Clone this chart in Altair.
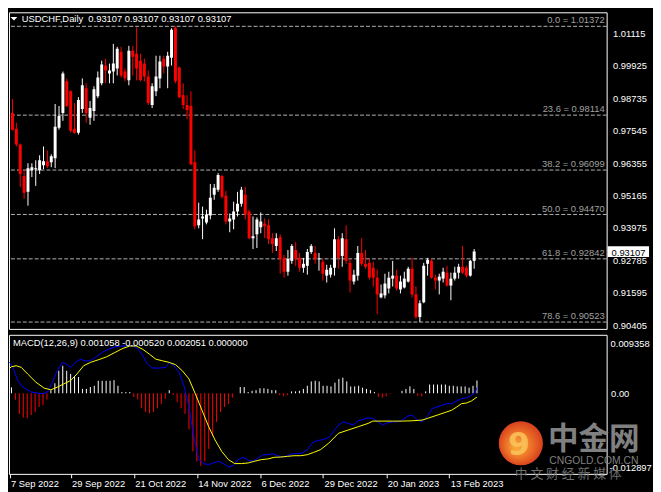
import json
import altair as alt
import pandas as pd

FONT = "Liberation Sans"

# ---------------- data ----------------
open_price = [0.98195, 0.97616, 0.97038, 0.95879, 0.95301, 0.96096, 0.96133, 0.96096, 0.96277, 0.96422,
              0.96386, 0.96530, 0.97653, 0.98195, 0.99353, 0.98991, 0.97616, 0.97472, 0.98340, 0.99100,
              0.98014, 0.98268, 0.98810, 0.99281, 0.99932, 0.99642, 0.99714, 0.99823, 1.00439, 0.99714,
              0.99389, 1.00475, 1.00366, 1.00113, 1.00004, 0.99533, 0.98485, 0.98991, 0.99461, 1.00185,
              0.99895, 1.00221, 1.01320, 0.99859, 0.98847, 0.98485, 0.98448, 0.96386, 0.94070, 0.94324,
              0.94179, 0.94432, 0.95192, 0.95373, 0.95879, 0.95156, 0.94215, 0.94288, 0.94577, 0.94867,
              0.95192, 0.94577, 0.93600, 0.93745, 0.93998, 0.94143, 0.94070, 0.93600, 0.93311, 0.93637,
              0.92877, 0.92370, 0.92768, 0.93166, 0.92877, 0.92515, 0.92587, 0.93094, 0.93058, 0.92822,
              0.92732, 0.92225, 0.92261, 0.92515, 0.93564, 0.92949, 0.93564, 0.92696, 0.92009, 0.92225,
              0.93058, 0.92660, 0.92696, 0.92515, 0.92153, 0.91429, 0.91502, 0.91755, 0.92117, 0.92225,
              0.91719, 0.91791, 0.92009, 0.92479, 0.91538, 0.90706, 0.91249, 0.92660, 0.92768, 0.92153,
              0.92045, 0.92117, 0.92334, 0.91864, 0.92117, 0.92334, 0.92551, 0.92515, 0.92225, 0.92768]
high_price = [0.98702, 0.97833, 0.97074, 0.96096, 0.96350, 0.96350, 0.96458, 0.96639, 0.96965, 0.96820,
              0.96675, 0.98521, 0.98448, 0.99714, 0.99461, 0.99028, 0.98557, 0.98774, 0.99461, 0.99281,
              0.98630, 0.99172, 0.99714, 1.00113, 1.00185, 1.00004, 1.00728, 1.00620, 1.00620, 0.99823,
              1.00656, 1.00656, 1.01330, 1.00366, 1.00185, 0.99750, 0.99281, 1.00294, 1.00294, 1.00294,
              1.00439, 1.01300, 1.01372, 0.99895, 0.99281, 0.98847, 0.98991, 0.96820, 0.94903, 0.94758,
              0.94649, 0.95590, 0.95590, 0.95988, 0.95916, 0.95337, 0.94505, 0.94939, 0.95301, 0.95482,
              0.95482, 0.94649, 0.94396, 0.94360, 0.94541, 0.94324, 0.94288, 0.93781, 0.93781, 0.93745,
              0.92985, 0.93166, 0.93384, 0.93456, 0.93058, 0.92877, 0.93203, 0.93384, 0.93311, 0.93058,
              0.92840, 0.92623, 0.92623, 0.93962, 0.93673, 0.93781, 0.94070, 0.92840, 0.92442, 0.93311,
              0.93600, 0.93166, 0.92840, 0.92732, 0.92442, 0.91900, 0.92297, 0.92370, 0.92768, 0.92442,
              0.92225, 0.92370, 0.92551, 0.92877, 0.91828, 0.91321, 0.92696, 0.92877, 0.92840, 0.92261,
              0.92297, 0.92515, 0.92587, 0.92334, 0.92551, 0.92660, 0.93311, 0.92587, 0.92804, 0.93203]
low_price = [0.97544, 0.96965, 0.95482, 0.95048, 0.94794, 0.95843, 0.95518, 0.95952, 0.96133, 0.96169,
             0.96205, 0.96169, 0.97581, 0.97906, 0.98412, 0.97472, 0.97436, 0.97400, 0.98195, 0.97833,
             0.97761, 0.97906, 0.98738, 0.99208, 0.99281, 0.99281, 0.99281, 0.99570, 0.99497, 0.99353,
             0.99208, 0.99570, 0.99389, 0.99353, 0.99353, 0.98485, 0.98376, 0.98810, 0.99100, 0.99642,
             0.99100, 0.99932, 0.99281, 0.98738, 0.98340, 0.97978, 0.96277, 0.93926, 0.93962, 0.93564,
             0.94107, 0.94288, 0.95012, 0.95301, 0.95048, 0.94107, 0.93818, 0.93926, 0.94396, 0.94758,
             0.94288, 0.93564, 0.93203, 0.93239, 0.93781, 0.93600, 0.93384, 0.93058, 0.93130, 0.92297,
             0.92153, 0.92225, 0.92660, 0.92587, 0.92370, 0.92334, 0.92261, 0.93022, 0.92660, 0.92406,
             0.92045, 0.91973, 0.92153, 0.92225, 0.92479, 0.92551, 0.92660, 0.91610, 0.91900, 0.92045,
             0.92587, 0.92479, 0.92081, 0.91828, 0.90814, 0.91393, 0.91393, 0.91574, 0.91828, 0.91683,
             0.91574, 0.91755, 0.91973, 0.91429, 0.90634, 0.90525, 0.91212, 0.92225, 0.92117, 0.91719,
             0.91538, 0.91973, 0.91828, 0.91321, 0.92045, 0.92117, 0.92297, 0.92153, 0.92189, 0.92479]
close_price = [0.97581, 0.97038, 0.95952, 0.95265, 0.96169, 0.96205, 0.96169, 0.96458, 0.96422, 0.96241,
               0.96603, 0.97689, 0.98086, 0.99642, 0.98448, 0.97544, 0.97472, 0.98666, 0.99208, 0.98195,
               0.98376, 0.99064, 0.99497, 0.99968, 0.99750, 0.99750, 1.00004, 1.00547, 0.99570, 0.99461,
               1.00475, 1.00258, 0.99823, 0.99389, 0.99533, 0.98557, 0.99172, 0.99533, 1.00077, 0.99895,
               1.00294, 1.01250, 0.99353, 0.98774, 0.98485, 0.98304, 0.96314, 0.94035, 0.94288, 0.94396,
               0.94468, 0.95084, 0.95446, 0.95916, 0.95120, 0.94215, 0.94324, 0.94577, 0.94867, 0.95373,
               0.94468, 0.93600, 0.93673, 0.94288, 0.94215, 0.94035, 0.93564, 0.93384, 0.93600, 0.92840,
               0.92370, 0.92840, 0.93311, 0.92840, 0.92515, 0.92660, 0.93094, 0.93311, 0.92840, 0.92858,
               0.92297, 0.92442, 0.92515, 0.93564, 0.92877, 0.93600, 0.92768, 0.92045, 0.92261, 0.93058,
               0.92660, 0.92551, 0.92153, 0.92153, 0.91538, 0.91574, 0.91936, 0.92153, 0.92225, 0.91755,
               0.92009, 0.92117, 0.92479, 0.91538, 0.90706, 0.91212, 0.92587, 0.92804, 0.92153, 0.92045,
               0.92189, 0.92370, 0.91864, 0.92117, 0.92334, 0.92551, 0.92334, 0.92225, 0.92768, 0.93107]

macd_hist = [0.0025, 0.00095, -0.00105, -0.0033, -0.0039, -0.0040, -0.0035, -0.0030, -0.0022, -0.0019,
             -0.0010, 0.0005, 0.0016, 0.0036, 0.0044, 0.0036, 0.0031, 0.0026, 0.0026, 0.0007,
             0.0007, 0.0010, 0.0012, 0.0020, 0.0020, 0.0020, 0.0020, 0.0021, 0.0012, 0.0002,
             0.0002, 0.0002, -0.0006, -0.0010, -0.0024, -0.0030, -0.0032, -0.0030, -0.0024, -0.0017,
             -0.0009, 0.0005, -0.0003, -0.0014, -0.0024, -0.0033, -0.0058, -0.0093, -0.0109, -0.0116,
             -0.0109, -0.0089, -0.0069, -0.0046, -0.0030, -0.0022, -0.0017, -0.0007, 0.0, 0.0010,
             0.0010, 0.0002, 0.0004, 0.0005, 0.0008, 0.0008, 0.0007, 0.0005, 0.0005, -0.0003,
             -0.0005, -0.0003, 0.0003, 0.0003, 0.0004, 0.0007, 0.0012, 0.0019, 0.0020, 0.0019,
             0.0012, 0.0012, 0.0011, 0.0017, 0.0023, 0.0025, 0.0019, 0.0011, 0.0011, 0.0012,
             0.0009, 0.0007, 0.0005, 0.0002, -0.0006, -0.0007, -0.0005, -0.0001, 0.0, 0.0,
             0.0004, 0.0007, 0.0011, 0.0007, -0.0004, -0.0005, 0.0003, 0.0014, 0.0014, 0.0014,
             0.0014, 0.0014, 0.0012, 0.0012, 0.0011, 0.0011, 0.0011, 0.0009, 0.0012, 0.00205]

macd_main = [[0.5, 0.0050], [1.4, 0.00414], [2.6, 0.00204], [3.9, 0.00098], [6.0, 0.00019], [8.9, -0.00007],
             [10.1, 0.00019], [11.4, 0.00177], [12.6, 0.00362], [13.9, 0.00494], [14.7, 0.00478], [16.0, 0.00414],
             [17.2, 0.00494], [18.5, 0.00546], [19.7, 0.0052], [21.0, 0.0052], [22.2, 0.00573], [23.9, 0.00652],
             [25.5, 0.00704], [27.2, 0.00741], [28.5, 0.00757], [30.1, 0.00757], [31.8, 0.00757], [33.0, 0.0072],
             [34.3, 0.00599], [35.5, 0.00467], [36.8, 0.00404], [38.5, 0.00404], [40.1, 0.00414], [41.0, 0.00494],
             [42.2, 0.00441], [43.5, 0.00335], [44.7, 0.00124], [46.0, -0.00218], [47.2, -0.00693], [48.5, -0.01062],
             [49.7, -0.01125], [51.0, -0.01141], [52.2, -0.01115], [53.5, -0.01088], [54.7, -0.01125], [56.0, -0.01178],
             [57.2, -0.01157], [58.5, -0.01062], [59.7, -0.01025], [61.0, -0.01073], [62.2, -0.01088], [63.5, -0.01036],
             [64.7, -0.00983], [66.0, -0.00983], [67.2, -0.00967], [68.5, -0.00999], [69.7, -0.0102], [71.0, -0.00999],
             [72.2, -0.00967], [73.5, -0.00967], [74.7, -0.00957], [76.0, -0.00904], [77.2, -0.00798], [78.5, -0.00756],
             [79.7, -0.00746], [81.4, -0.0071], [82.6, -0.00614], [83.9, -0.00508], [85.1, -0.00456], [86.4, -0.00482],
             [87.6, -0.00508], [88.9, -0.0044], [90.1, -0.00419], [91.4, -0.00392], [92.6, -0.00403], [93.9, -0.00456],
             [95.1, -0.00508], [96.4, -0.00471], [97.6, -0.00456], [98.9, -0.00456], [100.1, -0.00429], [101.4, -0.00366],
             [102.6, -0.0035], [103.9, -0.00429], [105.1, -0.00456], [106.4, -0.00376], [107.6, -0.00245], [108.9, -0.00218],
             [110.1, -0.00192], [111.4, -0.00166], [112.6, -0.00166], [113.9, -0.00123], [115.1, -0.00086], [116.4, -0.00071],
             [117.6, -0.00034], [118.5, 0.0001], [119.0, 0.0009]]

macd_signal = [[0.5, 0.0040], [1.0, 0.00425], [2.2, 0.00441], [3.5, 0.00414], [5.1, 0.00309], [7.2, 0.00177],
               [9.3, 0.00082], [11.0, 0.00056], [12.6, 0.00098], [14.3, 0.00151], [16.0, 0.00204], [17.6, 0.00309],
               [19.3, 0.00441], [21.0, 0.00494], [23.0, 0.00536], [25.1, 0.00583], [27.2, 0.00652], [29.3, 0.0072],
               [31.0, 0.00757], [32.6, 0.00757], [34.3, 0.00704], [36.0, 0.00625], [37.6, 0.00546], [39.3, 0.0052],
               [41.0, 0.00494], [42.6, 0.00457], [44.3, 0.00362], [46.0, 0.0023], [47.6, -0.00007], [49.3, -0.00271],
               [51.0, -0.00535], [52.6, -0.00746], [54.3, -0.0093], [56.0, -0.01062], [57.6, -0.01125], [59.3, -0.01125],
               [61.0, -0.01115], [62.6, -0.01088], [64.3, -0.01062], [66.0, -0.01051], [67.6, -0.01025], [69.3, -0.0102],
               [71.0, -0.01009], [72.6, -0.00999], [74.3, -0.00999], [76.0, -0.00983], [77.6, -0.00946], [79.3, -0.00904],
               [81.4, -0.0080], [83.9, -0.0064], [86.4, -0.00587], [88.9, -0.00535], [91.4, -0.00482], [92.6, -0.00445],
               [95.1, -0.00445], [97.6, -0.00445], [100.1, -0.00445], [102.6, -0.0044], [105.1, -0.00429], [106.4, -0.00403],
               [108.9, -0.0035], [111.4, -0.00297], [112.6, -0.00271], [113.9, -0.00218], [115.1, -0.00166], [116.4, -0.00155],
               [117.6, -0.00123], [119.0, -0.0006]]

price_ticks = [1.01115, 0.99925, 0.98735, 0.97545, 0.96355, 0.95165, 0.93975, 0.92785, 0.91595, 0.90405]
fib_levels = [1.01372, 0.98114, 0.96099, 0.94470, 0.92842, 0.90523]
fib_labels = ["0.0 = 1.01372", "23.6 = 0.98114", "38.2 = 0.96099",
              "50.0 = 0.94470", "61.8 = 0.92842", "78.6 = 0.90523"]
date_bars = [0, 16, 32, 48, 64, 80, 96, 112]
date_labels = ["7 Sep 2022", "29 Sep 2022", "21 Oct 2022", "14 Nov 2022",
               "6 Dec 2022", "29 Dec 2022", "20 Jan 2023", "13 Feb 2023"]
last_price = 0.93107
price_title = "USDCHF,Daily\u00a0 0.93107 0.93107 0.93107 0.93107"
macd_title = "MACD(12,26,9) 0.001058 -0.000520 0.002051 0.000000"
macd_range = [-0.012897, 0.009358]
macd_range_labels = ["-0.012897", "0.009358"]

# ---------------- layout ----------------
W, H1, H2 = 606, 321, 141
x_scale = alt.Scale(domain=[0.375, 151.875], nice=False, zero=False)
p_scale = alt.Scale(domain=[0.90272, 1.018856], nice=False, zero=False)
m_scale = alt.Scale(domain=macd_range, nice=False, zero=False)

WHITE, RED = "#ffffff", "#ff0000"

# shared axis definitions (same object on every layer so nothing disables them)
price_axis = alt.Axis(orient="right", values=price_ticks, format=".5f", labelColor=WHITE,
                      labelFont=FONT, labelFontSize=9.5, labelPadding=6, ticks=False,
                      domain=False, grid=False, title=None, labelOverlap=False)
date_axis = alt.Axis(values=[max(b, 0.5) for b in date_bars],
                     labelExpr=json.dumps(date_labels) + "[round(datum.value / 16)]",
                     labelAlign="left", labelBaseline="top", labelPadding=1, labelOffset=1,
                     tickSize=4, tickColor=WHITE, tickWidth=1, labelColor=WHITE, labelFont=FONT,
                     labelFontSize=9.5, domain=False, grid=False, title=None,
                     labelFlush=False, labelOverlap=False)
zero_axis = alt.Axis(orient="right", values=[0], labelExpr="'0.00'", labelColor=WHITE, labelFont=FONT,
                     labelFontSize=9.5, labelPadding=4, ticks=False, domain=False, grid=False, title=None)

XP = alt.X("bar:Q", scale=x_scale, axis=None)
XM = alt.X("bar:Q", scale=x_scale, axis=date_axis)


def YP(field):
    return alt.Y(field, scale=p_scale, axis=price_axis)


def YM(field):
    return alt.Y(field, scale=m_scale, axis=zero_axis)


candles = pd.DataFrame({"bar": list(range(len(open_price))), "open": open_price,
                        "high": high_price, "low": low_price, "close": close_price})
candle_color = alt.condition("datum.close >= datum.open", alt.value(WHITE), alt.value(RED))

fib = pd.DataFrame({"level": fib_levels, "label": fib_labels})
fib_lines = alt.Chart(fib).mark_rule(color="#b4b4b4", strokeWidth=1, strokeDash=[4, 2]).encode(
    y=YP("level:Q"))
fib_text = alt.Chart(fib).mark_text(align="right", baseline="alphabetic", dy=-3, color="#a0a0a0",
                                    font=FONT, fontSize=9.5).encode(
    x=alt.value(W - 2), y=YP("level:Q"), text="label:N")

wicks = alt.Chart(candles).mark_rule(strokeWidth=1, clip=True).encode(
    x=XP, y=YP("low:Q"), y2="high:Q", color=candle_color)
bodies = alt.Chart(candles).mark_bar(size=3, clip=True).encode(
    x=XP, y=YP("open:Q"), y2="close:Q", color=candle_color)

title_df = pd.DataFrame({"t": [price_title]})
title_mark = alt.Chart(title_df).mark_text(align="left", baseline="alphabetic", color=WHITE,
                                           font=FONT, fontSize=9.5).encode(
    x=alt.value(13), y=alt.value(10), text="t:N")
tri = alt.Chart(title_df).mark_point(shape="M-1,-0.5L1,-0.5L0,0.5Z", filled=True, size=49,
                                     color=WHITE, opacity=1, strokeWidth=0).encode(
    x=alt.value(5), y=alt.value(6.6))

last_df = pd.DataFrame({"price": [last_price]})
box = alt.Chart(last_df).mark_tick(orient="horizontal", size=42, thickness=11, color=WHITE, opacity=1).encode(
    x=alt.value(628), y=YP("price:Q"))
box_text = alt.Chart(last_df).mark_text(align="left", baseline="middle", dy=1, color="#000000",
                                        font=FONT, fontSize=9.5).encode(
    x=alt.value(611), y=YP("price:Q"), text=alt.Text("price:Q", format=".5f"))

price_chart = alt.layer(fib_lines, fib_text, wicks, bodies, title_mark, tri, box, box_text).properties(
    width=W, height=H1)

# ---------------- MACD panel ----------------
hist_df = pd.DataFrame({"bar": list(range(len(macd_hist))), "h": macd_hist})
hist = alt.Chart(hist_df).mark_rule(strokeWidth=1, clip=True).encode(
    x=XM, y=YM("h:Q"), y2=alt.datum(0),
    color=alt.condition("datum.h >= 0", alt.value(WHITE), alt.value(RED)))

main_df = pd.DataFrame(macd_main, columns=["bar", "v"])
signal_df = pd.DataFrame(macd_signal, columns=["bar", "v"])
main_line = alt.Chart(main_df).mark_line(color="#0000ff", strokeWidth=1, clip=True).encode(
    x=XM, y=YM("v:Q"))
signal_line = alt.Chart(signal_df).mark_line(color="#ffff00", strokeWidth=1, clip=True).encode(
    x=XM, y=YM("v:Q"))

mt_df = pd.DataFrame({"t": [macd_title]})
macd_title_mark = alt.Chart(mt_df).mark_text(align="left", baseline="alphabetic", color=WHITE,
                                             font=FONT, fontSize=9.5).encode(
    x=alt.value(4), y=alt.value(11), text="t:N")

mr = pd.DataFrame({"v": macd_range, "t": macd_range_labels})
top_label = alt.Chart(mr).transform_filter("datum.v > 0").mark_text(
    align="left", baseline="top", dy=4, color=WHITE, font=FONT, fontSize=9.5).encode(
    x=alt.value(W + 4), y=YM("v:Q"), text="t:N")
bottom_label = alt.Chart(mr).transform_filter("datum.v < 0").mark_text(
    align="left", baseline="bottom", dy=-1, color=WHITE, font=FONT, fontSize=9.5).encode(
    x=alt.value(W + 3), y=YM("v:Q"), text="t:N")

# watermark (中金网 logo)
wm = pd.DataFrame({"a": ["中金网"], "b": ["CNGOLD.COM.CN"], "c": ["中  文  财  经  新  媒  体"], "d": ["9"]})
logo_fill = alt.RadialGradient(gradient="radial", x1=0.4, y1=0.6, r1=0.05, x2=0.5, y2=0.5, r2=0.55,
                               stops=[alt.GradientStop(color="#f7a736", offset=0),
                                      alt.GradientStop(color="#ea6a26", offset=0.55),
                                      alt.GradientStop(color="#d2361b", offset=1)])
logo = alt.Chart(wm).mark_point(shape="circle", filled=True, size=2000, fill=logo_fill,
                                opacity=1, strokeWidth=0).encode(x=alt.value(519), y=alt.value(110))
logo_swirl = alt.Chart(wm).mark_text(font="DejaVu Sans", fontSize=32, fontWeight="bold",
                                     color="#fbc45c", baseline="middle", align="center", opacity=0.85).encode(
    x=alt.value(517), y=alt.value(112), text="d:N")
wm_a = alt.Chart(wm).mark_text(font="Noto Sans CJK SC", fontSize=31, fontWeight="bold", color="#8e8e8e",
                               baseline="middle", align="center", opacity=0.9).encode(
    x=alt.value(593), y=alt.value(107), text="a:N")
wm_b = alt.Chart(wm).mark_text(font=FONT, fontSize=10.5, color="#8e8e8e", baseline="middle",
                               align="center", opacity=0.9).encode(
    x=alt.value(593), y=alt.value(128), text="b:N")
wm_c = alt.Chart(wm).mark_text(font="Noto Sans CJK SC", fontSize=13, color="#7a7a7a", baseline="middle",
                               align="center", opacity=0.9).encode(
    x=alt.value(567), y=alt.value(141), text="c:N")

macd_chart = alt.layer(hist, main_line, signal_line, macd_title_mark, top_label, bottom_label,
                       logo, logo_swirl, wm_a, wm_b, wm_c).properties(width=W, height=H2)

chart = alt.vconcat(price_chart, macd_chart, spacing=3, padding=0, background="#000000").configure_view(
    stroke=WHITE, strokeWidth=1)

chart.save("out.html", embed_options={"renderer": "svg", "actions": False})
